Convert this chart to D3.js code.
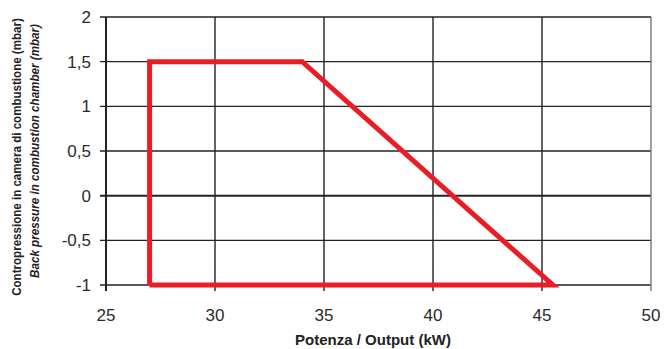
<!DOCTYPE html>
<html>
<head>
<meta charset="utf-8">
<script src="https://cdn.jsdelivr.net/npm/d3@7"></script>
<style>
  html, body { margin: 0; padding: 0; background: #fff; }
  svg { display: block; }
</style>
</head>
<body>
<svg id="chart" width="664" height="349"></svg>
<script>
// Operating envelope: output (kW) vs back pressure (mbar)
const outputKW = [27, 27, 34, 45.5, 27];
const pressureMbar = [-1, 1.5, 1.5, -1, -1];

const xTicks = [25, 30, 35, 40, 45, 50];
const yTicks = [-1, -0.5, 0, 0.5, 1, 1.5, 2];
const yTickLabels = ["-1", "-0,5", "0", "0,5", "1", "1,5", "2"];

const xTitle = "Potenza / Output (kW)";
const yTitle1 = "Contropressione in camera di combustione (mbar)";
const yTitle2 = "Back pressure in combustion chamber (mbar)";

const svg = d3.select("#chart");
const x = d3.scaleLinear().domain([25, 50]).range([106, 651]);
const y = d3.scaleLinear().domain([-1, 2]).range([285, 17]);

const ink = "#222";
const font = "'Liberation Sans', Arial, Helvetica, sans-serif";

// horizontal grid
svg.append("g").selectAll("line").data(yTicks).join("line")
  .attr("x1", x(25) - 6).attr("x2", x(50))
  .attr("y1", d => y(d)).attr("y2", d => y(d))
  .attr("stroke", ink)
  .attr("stroke-width", d => d === 0 ? 2 : 1.4);

// vertical grid
svg.append("g").selectAll("line").data(xTicks).join("line")
  .attr("x1", d => x(d)).attr("x2", d => x(d))
  .attr("y1", y(2)).attr("y2", y(-1) + 6)
  .attr("stroke", d => d === 50 ? "#777" : ink)
  .attr("stroke-width", d => d === 25 ? 2 : 1.4);

// y tick labels
svg.append("g").selectAll("text").data(yTicks).join("text")
  .attr("x", 91).attr("y", d => y(d))
  .attr("dy", "0.36em")
  .attr("text-anchor", "end")
  .attr("font-family", font).attr("font-size", 17).attr("fill", "#2a2a2a")
  .text((d, i) => yTickLabels[i]);

// x tick labels
svg.append("g").selectAll("text").data(xTicks).join("text")
  .attr("x", d => x(d)).attr("y", 321)
  .attr("text-anchor", "middle")
  .attr("font-family", font).attr("font-size", 17).attr("fill", "#2a2a2a")
  .text(d => d);

// envelope
const line = d3.line().x((d, i) => x(outputKW[i])).y(d => y(d));
svg.append("path")
  .attr("d", line(pressureMbar))
  .attr("fill", "none")
  .attr("stroke", "#ea1c26")
  .attr("stroke-width", 5)
  .attr("stroke-linejoin", "miter");

// axis titles
svg.append("text")
  .attr("x", 373).attr("y", 345)
  .attr("text-anchor", "middle")
  .attr("font-family", font).attr("font-weight", "bold")
  .attr("font-size", 15).attr("fill", "#222")
  .text(xTitle);

// rotated y titles, horizontally condensed to a target length
const narrow = "'Liberation Sans Narrow', 'Arial Narrow', 'Liberation Sans', sans-serif";
function condensedTitle(text, cx, cy, target, italic) {
  const t = svg.append("text")
    .attr("text-anchor", "middle")
    .attr("font-family", narrow).attr("font-weight", "bold")
    .attr("font-style", italic ? "italic" : "normal")
    .attr("font-size", 13).attr("fill", "#222")
    .text(text);
  const w = t.node().getComputedTextLength();
  const k = w > 0 ? Math.min(1, target / w) : 1;
  t.attr("transform", `translate(${cx},${cy}) rotate(-90) scale(${k},1)`);
  return t;
}
condensedTitle(yTitle1, 21, 157, 278, false);
condensedTitle(yTitle2, 39, 151, 254, true);
</script>
</body>
</html>
